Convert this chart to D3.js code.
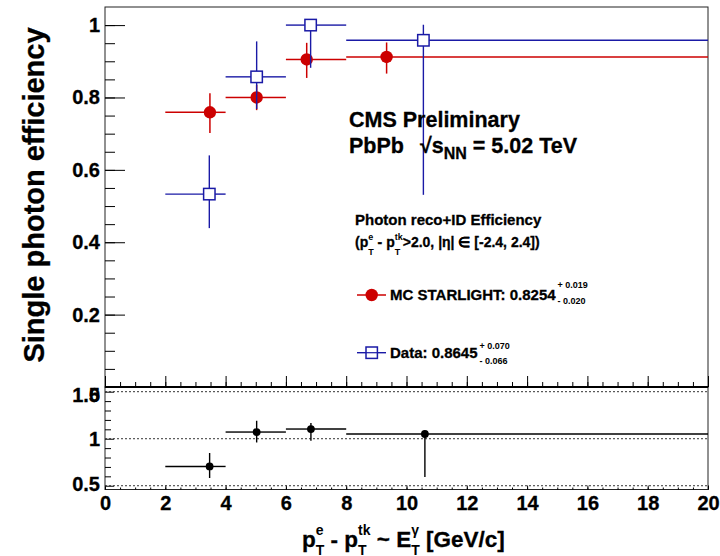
<!DOCTYPE html>
<html><head><meta charset="utf-8">
<script src="https://cdn.jsdelivr.net/npm/d3@7"></script>
<style>
body{margin:0;background:#fff;}
svg text{font-family:"Liberation Sans",Arial,Helvetica,sans-serif;font-weight:bold;fill:#000;white-space:pre;stroke:#000;stroke-width:0.3px;}
</style></head>
<body><svg id="c" width="720" height="556"></svg>
<script>
// ---- data ----
const binLow  = [2, 4, 6, 8];
const binHigh = [4, 6, 8, 20];
const mcX      = [3.48, 5.03, 6.69, 9.34];
const mcEff    = [0.759, 0.800, 0.905, 0.912];
const mcErrUp  = [0.053, 0.035, 0.046, 0.040];
const mcErrDn  = [0.057, 0.035, 0.051, 0.046];
const dataX     = [3.46, 5.03, 6.82, 10.56];
const dataEff   = [0.533, 0.857, 1.000, 0.958];
const dataErrUp = [0.107, 0.098, 0.0, 0.043];
const dataErrDn = [0.094, 0.089, 0.118, 0.427];
const ratioX     = [3.47, 5.03, 6.83, 10.61];
const ratioVal   = [0.705, 1.071, 1.103, 1.050];
const ratioErrUp = [0.143, 0.120, 0.064, 0.0];
const ratioErrDn = [0.123, 0.111, 0.124, 0.457];
const topYTicks = [0, 0.2, 0.4, 0.6, 0.8, 1.0];
const topYMinor = d3.range(0.05, 1.05, 0.05);
const botYTicks = [0.5, 1.0, 1.5];
const botYMinor = [0.6, 0.7, 0.8, 0.9, 1.1, 1.2, 1.3, 1.4];
const xTicks = [0, 2, 4, 6, 8, 10, 12, 14, 16, 18, 20];
const xMinor = d3.range(0, 20.01, 0.5);
const refLines = [0.5, 1.0, 1.5];

const colMC = "#cc0000", colData = "#1a1aa6";

const svg = d3.select("#c");
const x = d3.scaleLinear().domain([0, 20]).range([105, 708]);
const yTop = d3.scaleLinear().domain([0, 1.05]).range([387, 7]);
const yBot = d3.scaleLinear().domain([0.46, 1.55]).range([489.5, 387]);

function cleanAxis(g){ g.select(".domain").remove(); g.selectAll("line").attr("stroke","#000"); }

// top panel frame
svg.append("rect").attr("x",105).attr("y",7).attr("width",603).attr("height",380)
  .attr("fill","none").attr("stroke","#222").attr("stroke-width",1);
// bottom panel frame
svg.append("rect").attr("x",105).attr("y",387).attr("width",603).attr("height",102.5)
  .attr("fill","none").attr("stroke","#222").attr("stroke-width",1);

// top y axis
svg.append("g").attr("transform","translate(105,0)")
  .call(d3.axisLeft(yTop).tickValues(topYMinor).tickSizeInner(-10).tickSizeOuter(0).tickFormat(""))
  .call(cleanAxis);
const gyt = svg.append("g").attr("transform","translate(105,0)")
  .call(d3.axisLeft(yTop).tickValues(topYTicks).tickSizeInner(-20).tickSizeOuter(0).tickPadding(5)
  .tickFormat(d => d===0 ? "0" : (d===1 ? "1" : d3.format(".1f")(d))))
  .call(cleanAxis);
gyt.selectAll("text").style("font-size","20px").attr("font-family",null);
gyt.selectAll("text").filter(d => d===0).attr("y", 8);

// top x ticks (no labels)
svg.append("g").attr("transform","translate(0,387)")
  .call(d3.axisBottom(x).tickValues(xMinor).tickSizeInner(-5).tickSizeOuter(0).tickFormat(""))
  .call(cleanAxis);
svg.append("g").attr("transform","translate(0,387)")
  .call(d3.axisBottom(x).tickValues(xTicks).tickSizeInner(-11).tickSizeOuter(0).tickFormat(""))
  .call(cleanAxis);

// bottom y axis
svg.append("g").attr("transform","translate(105,0)")
  .call(d3.axisLeft(yBot).tickValues(botYMinor).tickSizeInner(-6).tickSizeOuter(0).tickFormat(""))
  .call(cleanAxis);
const gyb = svg.append("g").attr("transform","translate(105,0)")
  .call(d3.axisLeft(yBot).tickValues(botYTicks).tickSizeInner(-9).tickSizeOuter(0).tickPadding(5)
  .tickFormat(d => d===1 ? "1" : d3.format(".1f")(d)))
  .call(cleanAxis);
gyb.selectAll("text").style("font-size","20px").attr("font-family",null);
gyb.selectAll("text").filter(d => d===1.5).attr("y", 3);
gyb.selectAll("text").filter(d => d===0.5).attr("y", -2);

// bottom x axis
svg.append("g").attr("transform","translate(0,489.5)")
  .call(d3.axisBottom(x).tickValues(xMinor).tickSizeInner(-2).tickSizeOuter(0).tickFormat(""))
  .call(cleanAxis);
const gxb = svg.append("g").attr("transform","translate(0,489.5)")
  .call(d3.axisBottom(x).tickValues(xTicks).tickSizeInner(-4).tickSizeOuter(0).tickPadding(6).tickFormat(d3.format("d")))
  .call(cleanAxis);
gxb.selectAll("text").style("font-size","20px").attr("font-family",null);

// thick separator
svg.append("line").attr("x1",105).attr("x2",708).attr("y1",387).attr("y2",387)
  .attr("stroke","#000").attr("stroke-width",2.2);

// dotted reference lines in ratio panel
svg.append("g").selectAll("line").data(refLines).join("line")
  .attr("x1",x(0)).attr("x2",x(20)).attr("y1",d=>yBot(d)).attr("y2",d=>yBot(d))
  .attr("stroke","#333").attr("stroke-width",1).attr("stroke-dasharray","2,2");

// error bar helper
function errorBars(g, xs, ys, up, dn, sc, color, gapH, gapV, lw){
  xs.forEach((xv,i) => {
    const cx = x(xv), cy = sc(ys[i]);
    const x0 = x(binLow[i]), x1 = x(binHigh[i]);
    const yU = sc(ys[i]+up[i]), yD = sc(ys[i]-dn[i]);
    const seg = (a,b,c,d) => g.append("line").attr("x1",a).attr("y1",b).attr("x2",c).attr("y2",d)
      .attr("stroke",color).attr("stroke-width",lw);
    if (cx - gapH > x0) seg(x0, cy, cx - gapH, cy);
    if (x1 > cx + gapH) seg(cx + gapH, cy, x1, cy);
    if (cy - gapV > yU) seg(cx, cy - gapV, cx, yU);
    if (yD > cy + gapV) seg(cx, cy + gapV, cx, yD);
  });
}

const gMC = svg.append("g");
errorBars(gMC, mcX, mcEff, mcErrUp, mcErrDn, yTop, colMC, 0, 0, 1.5);
gMC.selectAll("circle").data(mcX).join("circle")
  .attr("cx", d=>x(d)).attr("cy",(d,i)=>yTop(mcEff[i])).attr("r",6.2).attr("fill",colMC);

const gD = svg.append("g");
errorBars(gD, dataX, dataEff, dataErrUp, dataErrDn, yTop, colData, 5.7, 5.7, 1.4);
gD.selectAll("rect").data(dataX).join("rect")
  .attr("x", d=>x(d)-5.7).attr("y",(d,i)=>yTop(dataEff[i])-5.7).attr("width",11.4).attr("height",11.4)
  .attr("fill","#fff").attr("stroke",colData).attr("stroke-width",1.5);

const gR = svg.append("g");
errorBars(gR, ratioX, ratioVal, ratioErrUp, ratioErrDn, yBot, "#000", 0, 0, 1.4);
gR.selectAll("circle").data(ratioX).join("circle")
  .attr("cx", d=>x(d)).attr("cy",(d,i)=>yBot(ratioVal[i])).attr("r",3.9).attr("fill","#000");

// rich text helper
function rich(parent, x0, y0, base, pieces){
  let cx = x0;
  pieces.forEach(p => {
    if (p.gap !== undefined) { cx += p.gap; return; }
    if (p.t !== undefined) {
      const t = parent.append("text").attr("x",cx).attr("y",y0 + (p.dy||0))
        .style("font-size",(p.s||base)+"px").text(p.t);
      cx += t.node().getComputedTextLength();
    } else {
      let w = 0;
      if (p.sup) { const t = parent.append("text").attr("x",cx).attr("y",y0+p.supDy).style("font-size",p.s+"px").style("stroke-width","0px").text(p.sup); w = Math.max(w,t.node().getComputedTextLength()); }
      if (p.sub) { const t = parent.append("text").attr("x",cx).attr("y",y0+p.subDy).style("font-size",p.s+"px").style("stroke-width","0px").text(p.sub); w = Math.max(w,t.node().getComputedTextLength()); }
      cx += w;
    }
  });
  return cx;
}

const gt = svg.append("g");
gt.append("text").attr("x",349).attr("y",127).style("font-size","21.5px").text("CMS Preliminary");
rich(gt, 349, 153, 21.5, [
  {t:"PbPb"}, {gap:16}, {t:"√", s:21.5}, {t:"s"}, {t:"NN", s:16, dy:6}, {t:" = 5.02 TeV"}
]);
gt.append("text").attr("x",355).attr("y",225).style("font-size","15px").text("Photon reco+ID Efficiency");
rich(gt, 355, 246.7, 14, [
  {t:"(p"}, {sup:"e", sub:"T", s:9, supDy:-7, subDy:8}, {t:" - p"},
  {sup:"tk", sub:"T", s:9, supDy:-7, subDy:8}, {t:">2.0, |η| ∈ [-2.4, 2.4])"}
]);

// legend
const gl = svg.append("g");
gl.append("line").attr("x1",357).attr("x2",386).attr("y1",295).attr("y2",295).attr("stroke",colMC).attr("stroke-width",1.5);
gl.append("circle").attr("cx",371.7).attr("cy",295).attr("r",6.2).attr("fill",colMC);
rich(gl, 390, 299.5, 15, [
  {t:"MC STARLIGHT: 0.8254"}, {gap:2}, {sup:"+ 0.019", sub:"- 0.020", s:9, supDy:-12, subDy:4}
]);
gl.append("line").attr("x1",357).attr("x2",366).attr("y1",352.7).attr("y2",352.7).attr("stroke",colData).attr("stroke-width",1.4);
gl.append("line").attr("x1",377.4).attr("x2",386).attr("y1",352.7).attr("y2",352.7).attr("stroke",colData).attr("stroke-width",1.4);
gl.append("rect").attr("x",366).attr("y",347).attr("width",11.4).attr("height",11.4)
  .attr("fill","#fff").attr("stroke",colData).attr("stroke-width",1.5);
gl.append("line").attr("x1",366).attr("x2",377.4).attr("y1",352.7).attr("y2",352.7).attr("stroke",colData).attr("stroke-width",1.2);
rich(gl, 390, 358.3, 15, [
  {t:"Data: 0.8645"}, {gap:2}, {sup:"+ 0.070", sub:"- 0.066", s:9, supDy:-9, subDy:5.5}
]);

// axis titles
svg.append("text").attr("transform","translate(44,195) rotate(-90)").attr("text-anchor","middle")
  .style("font-size","29px").text("Single photon efficiency");
rich(svg.append("g"), 302, 546.5, 22.5, [
  {t:"p"}, {sup:"e", sub:"T", s:14, supDy:-12, subDy:8}, {t:" - p"},
  {sup:"tk", sub:"T", s:14, supDy:-12, subDy:8}, {t:" ~ E"},
  {sup:"γ", sub:"T", s:14, supDy:-12, subDy:8}, {t:" [GeV/c]"}
]);
</script></body></html>
